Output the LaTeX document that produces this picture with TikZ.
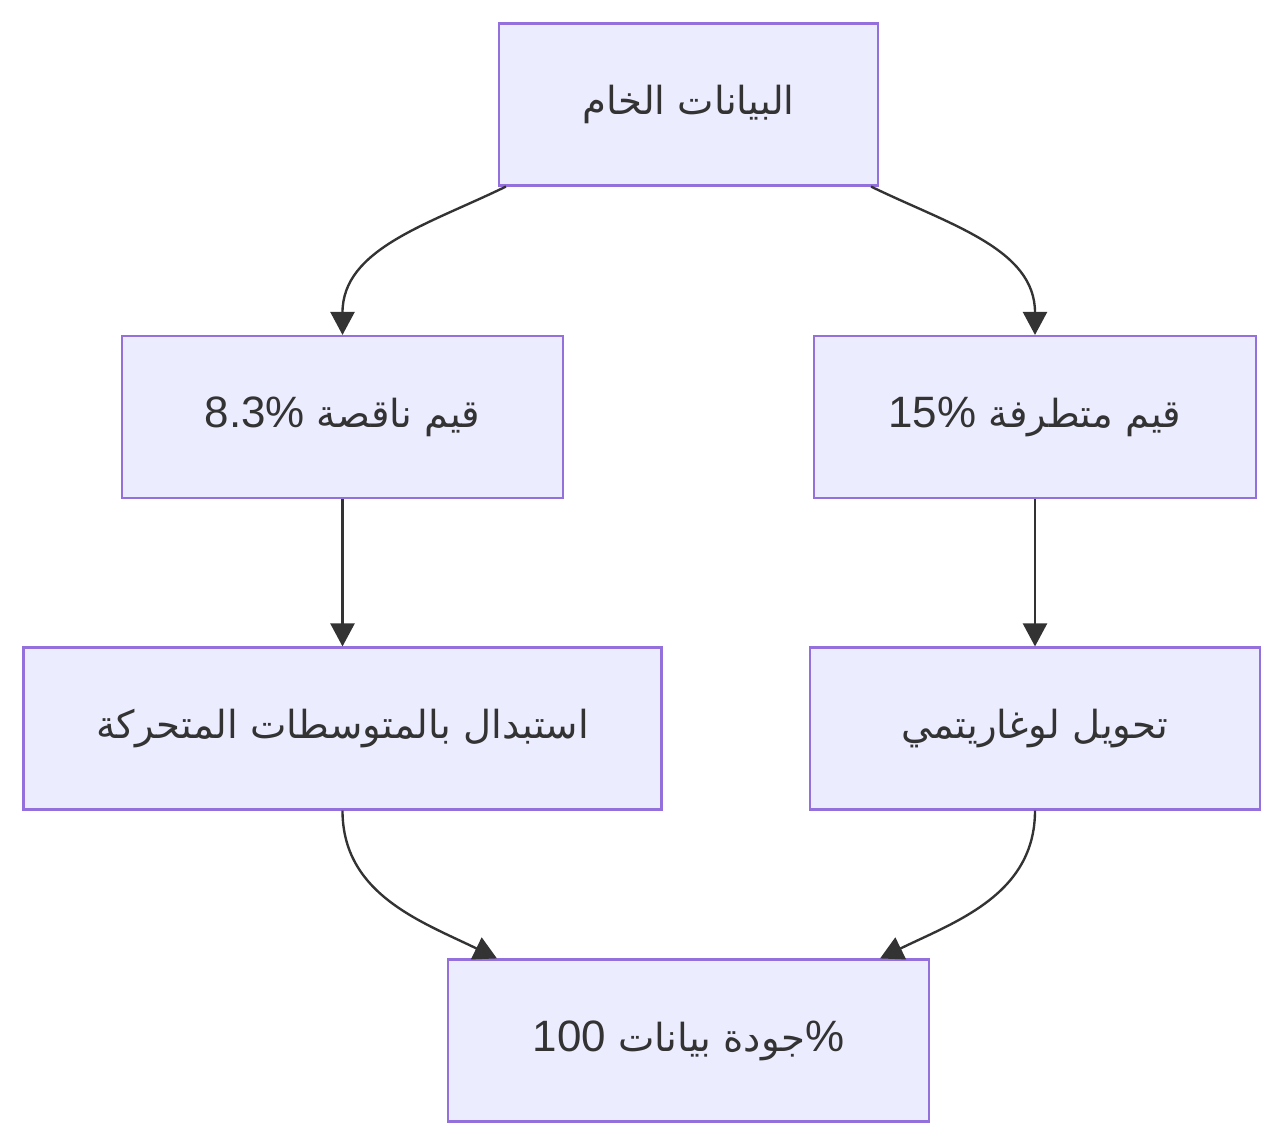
\documentclass[tikz,border=0pt]{standalone}
\usepackage{fontspec}
\setmainfont{Liberation Sans}
\newfontfamily\arabicfont[Script=Arabic]{DejaVu Sans}
\TeXXeTstate=1
\usetikzlibrary{arrows.meta}
\definecolor{boxfill}{HTML}{ECECFF}
\definecolor{boxline}{HTML}{9370DB}
\definecolor{ink}{HTML}{333333}
\newcommand{\artext}[1]{{\arabicfont\fontsize{22}{30}\selectfont\beginR #1\endR}}
\tikzset{
  stage/.style={rectangle,draw=boxline,fill=boxfill,line width=1.2pt,
    minimum height=3.24cm,text=ink,font=\fontsize{25}{30}\selectfont},
  flow/.style={draw=ink,line width=1.35pt,
    -{Triangle[length=0.46cm,width=0.48cm]}}
}

\begin{document}
\begin{tikzpicture}
\useasboundingbox (0,0) rectangle (25.68,-22.92);
%Node Coordinates
\node at (13.77,-2.09) [stage,minimum width=7.58cm] (Raw) {\artext{البيانات الخام}};
\node at (6.85,-8.34) [stage,minimum width=8.82cm] (Missing) {8.3\% \artext{قيم ناقصة}};
\node at (20.7,-8.34) [stage,minimum width=8.84cm] (Outlier) {15\% \artext{قيم متطرفة}};
\node at (6.85,-14.57) [stage,minimum width=12.76cm] (Moving) {\artext{استبدال بالمتوسطات المتحركة}};
\node at (20.7,-14.57) [stage,minimum width=9.0cm] (LogTr) {\artext{تحويل لوغاريتمي}};
\node at (13.77,-20.81) [stage,minimum width=9.62cm] (Quality) {100 \artext{جودة بيانات}\%};
%Connections
\draw [flow] ([xshift=0.16cm]Raw.south west) to[out=-154,in=90] (Missing.north);
\draw [flow] ([xshift=-0.16cm]Raw.south east) to[out=-26,in=90] (Outlier.north);
\draw [flow] (Missing) -- (Moving);
\draw [flow] (Outlier) -- (LogTr);
\draw [flow] (Moving.south) to[out=-90,in=154] ([xshift=1.0cm]Quality.north west);
\draw [flow] (LogTr.south) to[out=-90,in=26] ([xshift=-1.0cm]Quality.north east);
\end{tikzpicture}
\end{document}
